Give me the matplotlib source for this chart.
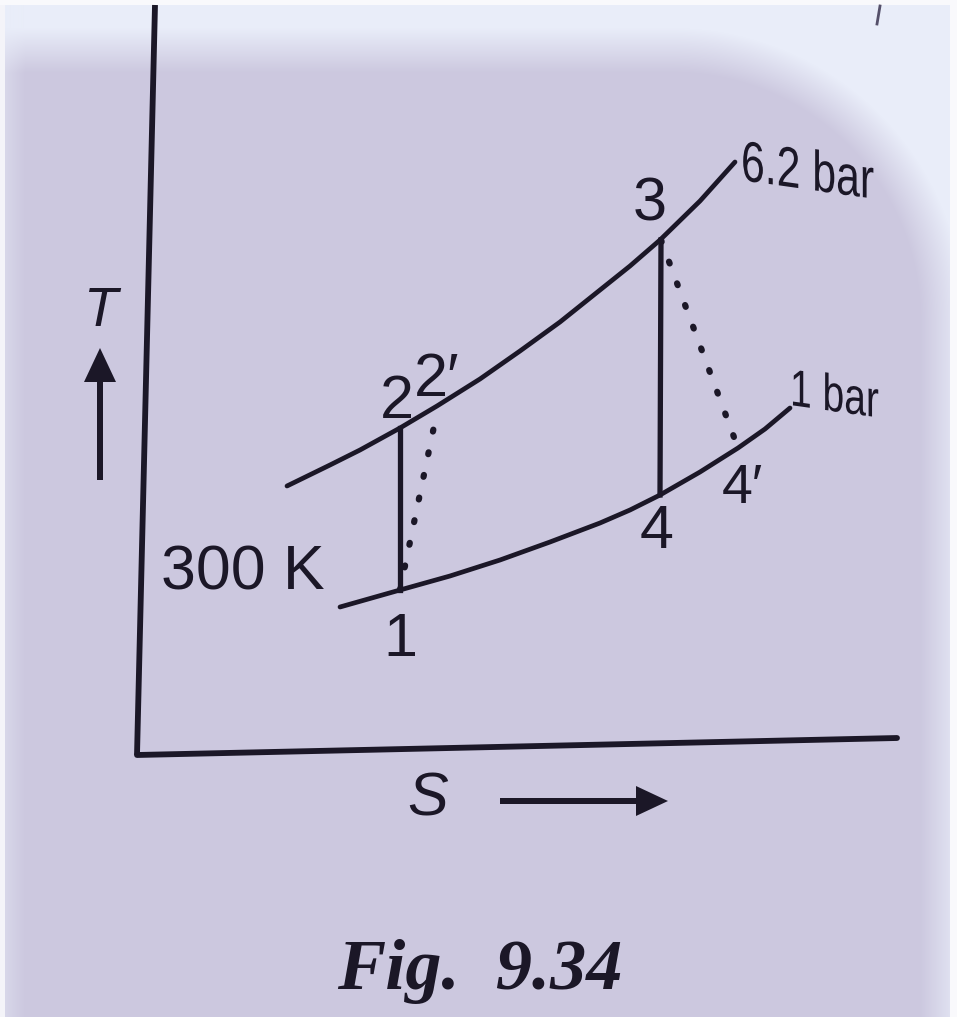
import numpy as np
import matplotlib
matplotlib.use("Agg")
from matplotlib import pyplot as plt
from matplotlib.textpath import TextPath
from matplotlib.patches import PathPatch
from matplotlib.font_manager import FontProperties
from matplotlib.transforms import Affine2D

# diagram coordinates (S to the right, T downward in picture units)
highS = [287, 330, 360, 400, 437, 480, 520, 560, 600, 630, 660, 700, 735]
highT = [486, 465, 450, 428, 406, 379, 351, 322, 290, 266, 240, 201, 162]
lowS = [340, 400, 450, 500, 550, 600, 630, 660, 700, 738, 765, 790]
lowT = [607, 590, 576, 560, 542, 523, 510, 495, 472, 448, 429, 408]

# state points
pts = {'1': (400, 590), '2': (400, 428), "2'": (437, 412),
       '3': (661, 240), '4': (660, 495), "4'": (738, 448)}

axisY = [(155, 5), (137, 755)]
axisX = [(137, 755), (897, 738)]

ink = '#1b1727'
W, H = 957, 1017

fig = plt.figure(figsize=(W / 100, H / 100), dpi=100)
ax = fig.add_axes([0, 0, 1, 1])
ax.set_xlim(0, W)
ax.set_ylim(H, 0)
ax.axis('off')

# paper background with page shadow (rounded corner top right)
yy, xx = np.mgrid[0:H, 0:W].astype(float)
dx = np.maximum(xx - 672, 0)
dy = np.maximum(320 - yy, 0)
d = 270 - np.hypot(dx, dy)
w = np.clip(0.5 + d / 45, 0, 1)[..., None]
bright = np.array([233, 237, 249]) / 255
dark = np.array([204, 200, 223]) / 255
bg = bright * (1 - w) + dark * w
edge = np.clip(1 - xx / 25, 0, 1)[..., None] * 0.5
bg = bg * (1 - edge) + bright * edge
bg[:, :5] = [0.96, 0.96, 0.98]
bg[:5, :] = [0.98, 0.98, 0.99]
bg[:, 950:] = [0.98, 0.98, 0.99]
ax.imshow(bg, extent=[0, W, H, 0], zorder=0, aspect='auto')

# axes of the diagram
ax.plot([p[0] for p in axisY], [p[1] for p in axisY], color=ink, lw=4.2,
        solid_capstyle='butt')
ax.plot([p[0] for p in axisX], [p[1] for p in axisX], color=ink, lw=4.2,
        solid_capstyle='round')

# pressure lines
ax.plot(highS, highT, color=ink, lw=3.4, solid_capstyle='round')
ax.plot(lowS, lowT, color=ink, lw=3.4, solid_capstyle='round')

# isentropic and actual processes
for a, b in [('1', '2'), ('3', '4')]:
    ax.plot([pts[a][0], pts[b][0]], [pts[a][1], pts[b][1]], color=ink,
            lw=3.8)
for a, b in [('1', "2'"), ('3', "4'")]:
    ax.plot([pts[a][0], pts[b][0]], [pts[a][1], pts[b][1]], color=ink,
            lw=4.5, linestyle=(0, (0.3, 3.4)), dash_capstyle='round')

# labels
lab = dict(color=ink, family=['Liberation Sans', 'DejaVu Sans'])
ax.text(650, 205, '3', fontsize=44, ha='center', va='center', **lab)
ax.text(397, 402, '2', fontsize=44, ha='center', va='center', **lab)
ax.text(437, 380, "2\u2032", fontsize=44, ha='center', va='center', **lab)
ax.text(657, 532, '4', fontsize=44, ha='center', va='center', **lab)
ax.text(742, 489, "4\u2032", fontsize=40, ha='center', va='center', **lab)
ax.text(400, 640, '1', fontsize=44, ha='center', va='center', **lab)
ax.text(243, 573, '300 K', fontsize=45, ha='center', va='center', **lab)


def narrow_text(s, x, y, size):
    # condensed label whose baseline drops to the right, as in the photo
    tp = TextPath((0, 0), s, size=size,
                  prop=FontProperties(family='Liberation Sans'))
    tr = Affine2D().scale(0.75, -1).skew_deg(0, 8).translate(x, y)
    ax.add_patch(PathPatch(tr.transform_path(tp), facecolor=ink, lw=0))


narrow_text('6.2 bar', 741, 180, 57)
narrow_text('1 bar', 790, 405, 52)

ax.text(100, 312, 'T', fontsize=40, style='italic', ha='center',
        va='center', **lab)
ax.text(428, 800, 'S', fontsize=44, style='italic', ha='center',
        va='center', **lab)
ax.arrow(100, 480, 0, -132, width=6, head_width=32, head_length=34,
         length_includes_head=True, color=ink, lw=0)
ax.arrow(500, 801, 168, 0, width=6, head_width=30, head_length=32,
         length_includes_head=True, color=ink, lw=0)

ax.text(480, 972, 'Fig.  9.34', fontsize=52, fontweight='bold',
        style='italic', ha='center', va='center', color=ink,
        family=['Liberation Serif', 'DejaVu Serif'])

# small mark cut at the top edge
ax.plot([880, 877], [6, 24], color='#55506a', lw=2)

fig.savefig('out.png', dpi=100)
